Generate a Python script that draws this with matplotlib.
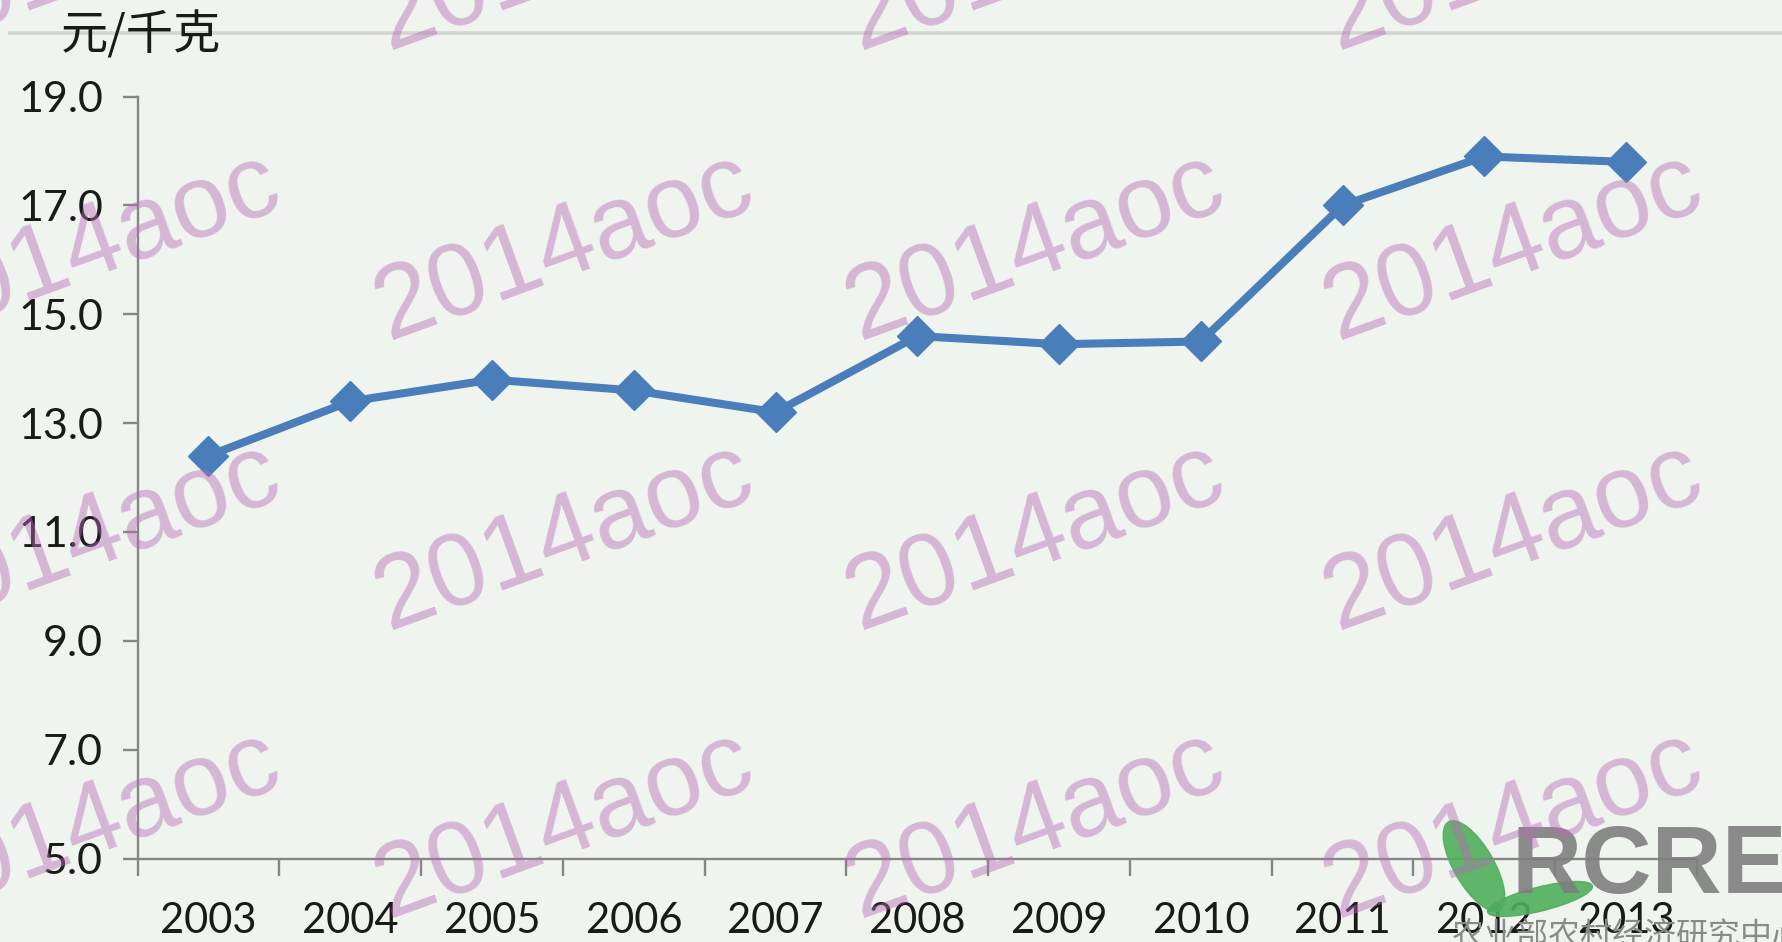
import matplotlib
matplotlib.use("Agg")
import matplotlib.pyplot as plt
from matplotlib.lines import Line2D
from matplotlib.patches import Ellipse
from matplotlib.transforms import IdentityTransform
import numpy as np

# data
years = ["2003", "2004", "2005", "2006", "2007", "2008", "2009", "2010", "2011", "2012", "2013"]
prices = [12.4, 13.4, 13.8, 13.6, 13.2, 14.6, 14.45, 14.5, 17.0, 17.9, 17.8]
y_ticks = [5.0, 7.0, 9.0, 11.0, 13.0, 15.0, 17.0, 19.0]
unit_label = "元/千克"
watermark = "2014aoc"
logo_text = "RCRE"
logo_caption = "农业部农村经济研究中心"

W, H = 1783, 942
BG = "#eff4ee"
LINE_BLUE = "#4a7ebb"
SPINE_GREY = "#868686"

fig = plt.figure(figsize=(W / 100, H / 100), dpi=100, facecolor=BG)


def fx(x):
    return x / W


def fy(y):
    return 1 - y / H


left, right, top, bottom = 137.6, 1697.0, 96.6, 858.5
ax = fig.add_axes([fx(left), fy(bottom), fx(right - left), (bottom - top) / H])
ax.set_facecolor(BG)

x = np.arange(len(years))
ax.plot(x, prices, color=LINE_BLUE, linewidth=5.8, marker="D", markersize=20.5,
        markerfacecolor=LINE_BLUE, markeredgecolor=LINE_BLUE, zorder=3, clip_on=False)

ax.set_xlim(-0.5, len(years) - 0.5)
ax.set_ylim(y_ticks[0], y_ticks[-1])
ax.set_yticks(y_ticks)
ax.set_yticklabels(["%.1f" % v for v in y_ticks])
ax.set_xticks(x)
ax.set_xticklabels(years)
ax.set_xticks(np.arange(len(years) + 1) - 0.5, minor=True)

for side in ("top", "right"):
    ax.spines[side].set_visible(False)
for side in ("left", "bottom"):
    ax.spines[side].set_color(SPINE_GREY)
    ax.spines[side].set_linewidth(1.7)

tick_font = ["Lato", "DejaVu Sans"]
ax.tick_params(axis="y", direction="out", length=11, width=1.7, color=SPINE_GREY,
               labelsize=31, pad=14, labelcolor="#1a1a1a")
ax.tick_params(axis="x", which="major", length=0, labelsize=30, pad=31, labelcolor="#1a1a1a")
ax.tick_params(axis="x", which="minor", direction="out", length=12.5, width=1.7, color=SPINE_GREY)
for lab in ax.get_xticklabels() + ax.get_yticklabels():
    lab.set_family(tick_font)

# unit label and the thin header rule
fig.text(fx(61), fy(36), unit_label, fontsize=34, ha="left", va="center",
         family=["Noto Sans CJK SC", "DejaVu Sans"], color="#1a1a1a")
fig.add_artist(Line2D([fx(10), 1.0], [fy(33), fy(33)], color="#d2d6d0", linewidth=2.6))

# logo in the lower right corner
leaf_green = "#4fae5c"
fig.add_artist(Ellipse((1474, H - 866), 102, 40, angle=-60, color=leaf_green,
                       alpha=0.9, transform=IdentityTransform(), zorder=4))
fig.add_artist(Ellipse((1540, H - 899), 108, 24, angle=14, color=leaf_green,
                       alpha=0.9, transform=IdentityTransform(), zorder=4))
fig.text(fx(1511), fy(893), logo_text, fontsize=70, fontweight="bold", color="#7f7f7f",
         family=["Liberation Sans", "DejaVu Sans"], ha="left", va="baseline",
         alpha=0.9, zorder=4)
fig.text(fx(1452), fy(920), logo_caption, fontsize=23, color="#8a8a8a",
         family=["Noto Sans CJK SC", "DejaVu Sans"], ha="left", va="top", zorder=4)

# watermark grid
wm_xs = [92, 565, 1036, 1514]
wm_ys = [-42, 248, 538, 826]
for wy in wm_ys:
    for wx in wm_xs:
        fig.text(fx(wx), fy(wy), watermark, fontsize=74, rotation=20,
                 rotation_mode="anchor", ha="center", va="center",
                 family=["Liberation Sans", "DejaVu Sans"],
                 color=(182 / 255, 107 / 255, 183 / 255), alpha=0.45, zorder=5)

fig.savefig("out.png", dpi=100, facecolor=BG)
plt.close(fig)
